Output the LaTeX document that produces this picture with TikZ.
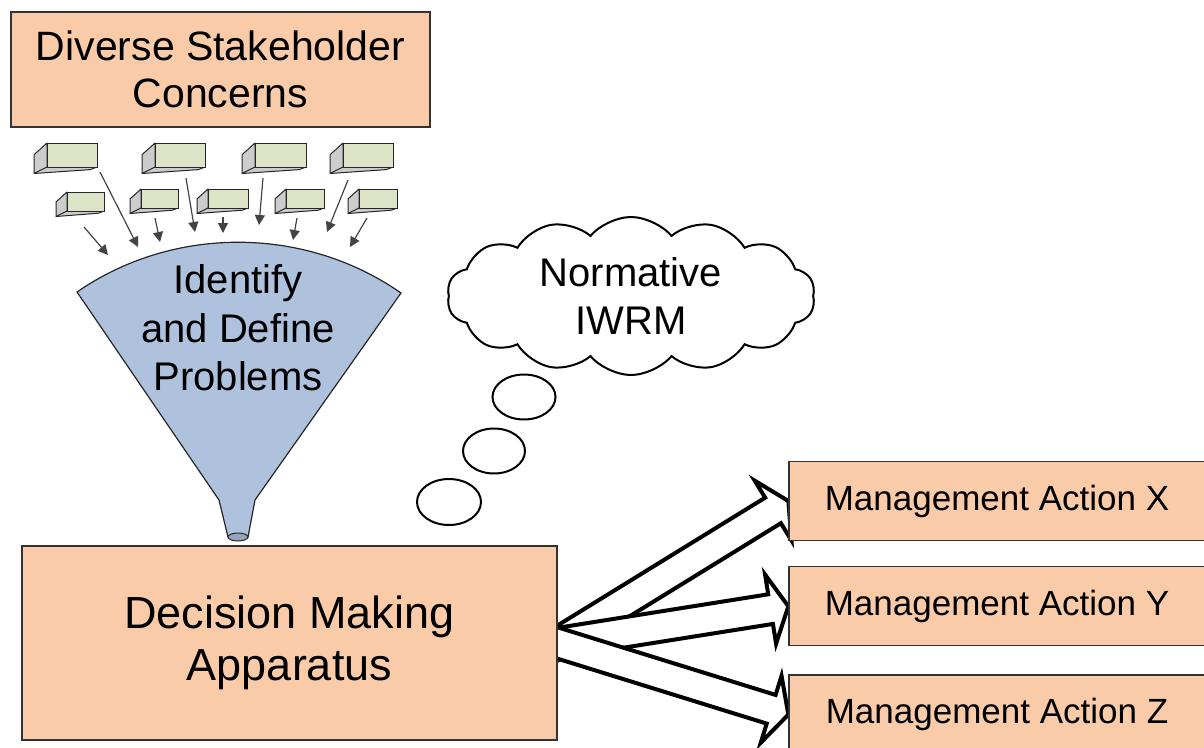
\documentclass[tikz,border=0pt]{standalone}
\usepackage{fontspec}
\setmainfont{Liberation Sans}
\usetikzlibrary{arrows.meta, positioning, calc, shapes.symbols, shapes.geometric, backgrounds}

\definecolor{peach}{RGB}{249,203,168}
\definecolor{funnelblue}{RGB}{175,194,221}
\definecolor{concernface}{RGB}{221,227,199}
\definecolor{concernside}{RGB}{204,204,204}
\definecolor{feedgray}{RGB}{68,68,68}

% hollow block arrow from #1 to #2
\newcommand{\blockarrow}[2]{%
  \coordinate (ba-s) at ($(#1)!-20pt!(#2)$);
  \coordinate (ba-h) at ($(#2)!18pt!(#1)$);
  \filldraw[bigarrow] ($(ba-s)!15pt!90:(#2)$) -- ($(ba-h)!15pt!90:(#2)$) -- ($(ba-h)!35pt!90:(#2)$)
    -- (#2) -- ($(ba-h)!35pt!-90:(#2)$) -- ($(ba-h)!15pt!-90:(#2)$) -- ($(ba-s)!15pt!-90:(#2)$) -- cycle;}

\begin{document}
\begin{tikzpicture}[x=1pt, y=-1pt,
    peachbox/.style={draw=black!80, line width=1.3pt, fill=peach, align=center, inner sep=0pt},
    bigarrow/.style={draw=black, fill=white, line width=4pt, line join=miter},
    feedarrow/.style={draw=feedgray, line width=1.2pt, -{Triangle[length=10pt, width=10pt]}},
    bubble/.style={draw=black, line width=2pt, fill=white}]
  \useasboundingbox (0,0) rectangle (1204,747);
  \clip (0,0) rectangle (1204,747);

  \node[peachbox, minimum width=419pt, minimum height=115pt, font=\fontsize{41}{47}\selectfont] (concerns) at (220.5,69.5) {Diverse Stakeholder\\Concerns};

  % stakeholder concerns
  \foreach \x/\y/\w/\h/\d in {47/143/50/24/13, 155/143/50/24/13, 255/143/51/24/13, 343/143/50/24/13,
      67/192/37/19/11, 141/189/37/19/11, 208/189/40/19/11, 286/189/38/19/11, 359/189/38/19/11} {
    \filldraw[fill=concernside, draw=black!85, line width=1pt, line join=round] (\x,\y) -- ({\x-\d},{\y+0.9*\d}) -- ({\x-\d},{\y+\h+0.5*\d})
      -- ({\x+\w-0.5*\d},{\y+\h+0.2*\d}) -- ({\x+\w},{\y+\h}) -- (\x,{\y+\h}) -- cycle;
    \draw[black!85, line width=1pt] (\x,{\y+\h}) -- ({\x-\d},{\y+\h+0.5*\d});
    \filldraw[fill=concernface, draw=black!85, line width=1pt] (\x,\y) rectangle ({\x+\w},{\y+\h});
  }
  \foreach \a/\b/\c/\e in {84/227/108/255, 100/172/138/247, 155/218/160/242, 186/178/195/232, 223/217/223/233,
      263/178/259/225, 297/218/293/240, 348/180/327/232, 367/218/350/247}
    \draw[feedarrow] (\a,\b) -- (\c,\e);

  % funnel
  \filldraw[fill=funnelblue, draw=black!85, line width=1.2pt] (77,292) .. controls (174,225) and (305,226) .. (401,293)
    -- (255,500) -- (248,537) -- (228,537) -- (219,500) -- cycle;
  \filldraw[fill=funnelblue!85!black, draw=black!85, line width=1pt] (238,537) ellipse [x radius=10, y radius=4];
  \node[font=\fontsize{40}{48.5}\selectfont, align=center] (problems) at (238,328) {Identify\\and Define\\Problems};

  % thought
  \node[cloud, bubble, cloud puffs=14, cloud puff arc=100, aspect=2.3, minimum width=368pt, minimum height=158pt,
    inner sep=0pt, align=center, font=\fontsize{40}{48}\selectfont] (normative) at (631,296) {Normative\\IWRM};
  \node[ellipse, bubble, minimum width=63pt, minimum height=45pt] (think1) at (524,397) {};
  \node[ellipse, bubble, minimum width=62pt, minimum height=45pt] (think2) at (494,451) {};
  \node[ellipse, bubble, minimum width=64pt, minimum height=46pt] (think3) at (449,502) {};

  \node[peachbox, minimum width=535pt, minimum height=194pt, font=\fontsize{45}{52}\selectfont] (decision) at (289.5,643) {Decision Making\\Apparatus};

  \node[peachbox, minimum width=416pt, minimum height=79pt, font=\fontsize{35}{40}\selectfont] (actx) at (997,501) {Management Action X};
  \node[peachbox, minimum width=416pt, minimum height=79pt, font=\fontsize{35}{40}\selectfont, below=25pt of actx] (acty) {Management Action Y};
  \node[peachbox, minimum width=416pt, minimum height=79pt, font=\fontsize{35}{40}\selectfont, below=28pt of acty] (actz) {Management Action Z};

  \begin{pgfonlayer}{background}
    \fill[white] (0,0) rectangle (1204,747);
    \blockarrow{decision.east}{actx.west}
    \blockarrow{decision.east}{acty.west}
    \blockarrow{decision.east}{actz.west}
  \end{pgfonlayer}
\end{tikzpicture}
\end{document}
